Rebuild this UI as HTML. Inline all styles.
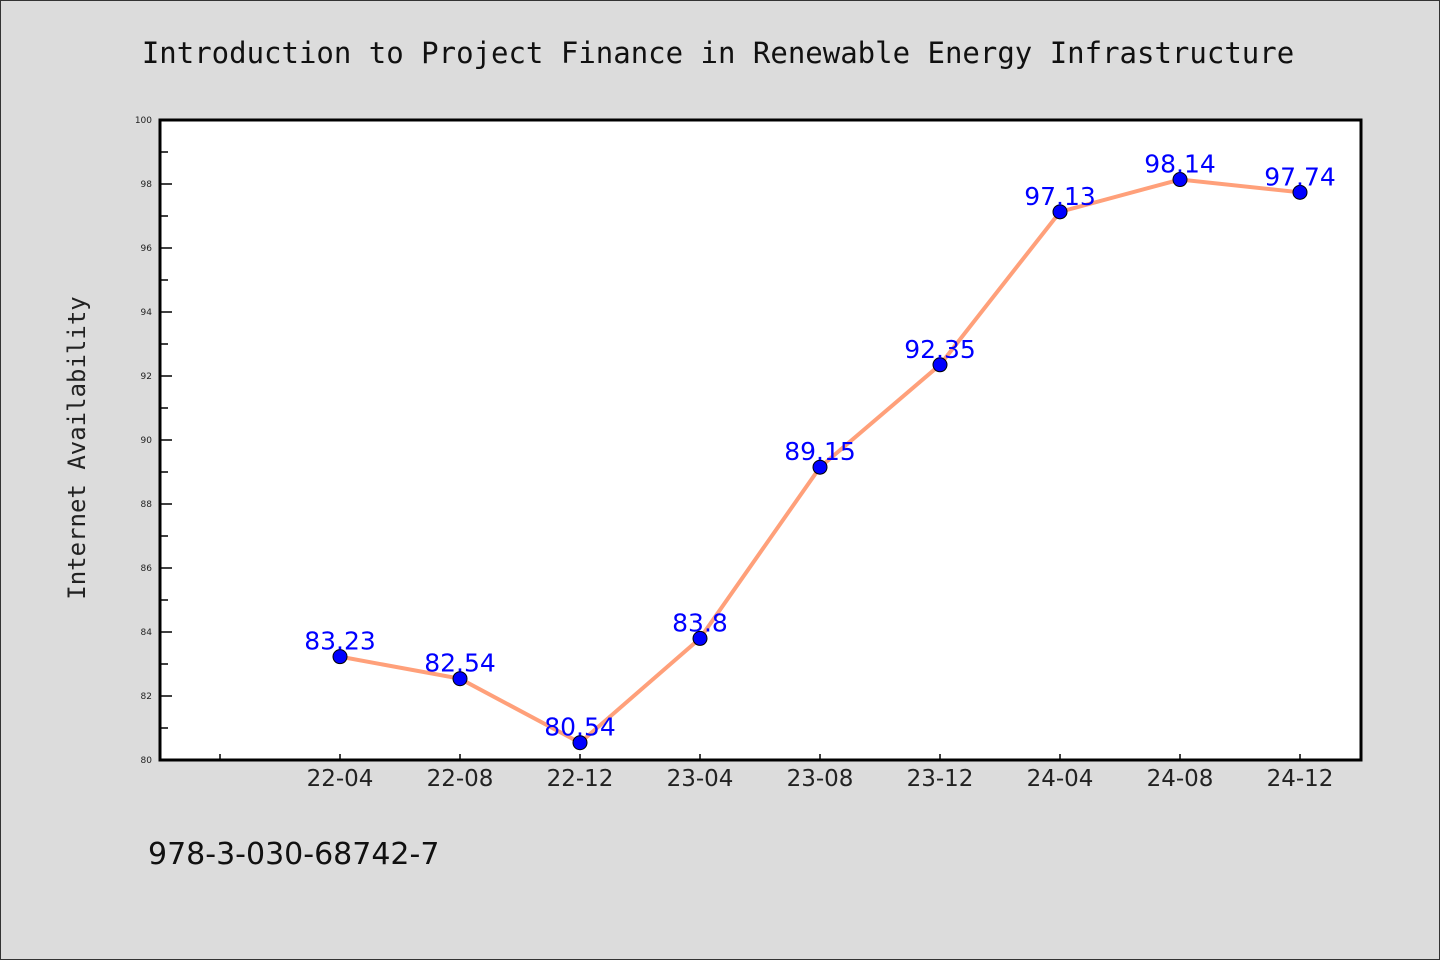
<!DOCTYPE html>
<html><head><meta charset="utf-8"><style>
body{margin:0;background:#dcdcdc;}
svg{display:block}
</style></head><body>
<svg width="1440" height="960" xmlns="http://www.w3.org/2000/svg">
<rect x="0.5" y="0.5" width="1439" height="959" fill="#dcdcdc" stroke="#333" stroke-width="1"/>
<text x="718" y="63" text-anchor="middle" font-family="DejaVu Sans Mono, Liberation Mono, monospace" font-size="29" fill="#111">Introduction to Project Finance in Renewable Energy Infrastructure</text>
<rect x="160" y="120" width="1201" height="640" fill="#fff"/>
<g id="axes"></g>
<g id="series"></g>
<rect x="160" y="120" width="1201" height="640" fill="none" stroke="#000" stroke-width="3"/>
<text transform="translate(85,448) rotate(-90)" text-anchor="middle" font-family="DejaVu Sans Mono, Liberation Mono, monospace" font-size="24" fill="#222">Internet Availability</text>
<text x="148" y="864" font-family="DejaVu Sans, Liberation Sans, sans-serif" font-size="30" fill="#111">978-3-030-68742-7</text>
</svg>
<script>
const categories = ["22-04","22-08","22-12","23-04","23-08","23-12","24-04","24-08","24-12"];
const values = [83.23,82.54,80.54,83.8,89.15,92.35,97.13,98.14,97.74];
const valueLabels = ["83.23","82.54","80.54","83.8","89.15","92.35","97.13","98.14","97.74"];
const yTicks = [80,82,84,86,88,90,92,94,96,98,100];
const NS="http://www.w3.org/2000/svg";
const L=160,R=1361,T=120,B=760,yMin=80,yMax=100;
function y(v){return B-(v-yMin)/(yMax-yMin)*(B-T);}
function x(i){return 220+120*(i+1);}
function mk(t,a,p){const e=document.createElementNS(NS,t);for(const k in a)e.setAttribute(k,a[k]);p.appendChild(e);return e;}
const ax=document.getElementById('axes'), sr=document.getElementById('series');
yTicks.forEach(v=>{
  const ln=mk('line',{x1:L,x2:L+12,y1:y(v),y2:y(v),stroke:'#000','stroke-width':1.5},ax);
  
  
  const t=mk('text',{x:L-8,y:y(v)+3,'text-anchor':'end','font-family':'DejaVu Sans, sans-serif','font-size':9,fill:'#222'},ax);
  t.textContent=v;
  
  
  if(v<yMax){const m=mk('line',{x1:L,x2:L+8,y1:y(v+1),y2:y(v+1),stroke:'#000','stroke-width':1.5},ax);
  
  }
});
for(let i=-1;i<categories.length;i++){
  const tk=mk('line',{x1:x(i),x2:x(i),y1:B,y2:B-6,stroke:'#000','stroke-width':1.5},ax);
  
  
  if(i>=0){const t=mk('text',{x:x(i),y:B+26,'text-anchor':'middle','font-family':'DejaVu Sans, sans-serif','font-size':23,fill:'#222'},ax);
  t.textContent=categories[i];
  
  }
}
const pl=mk('polyline',{points:values.map((v,i)=>x(i)+','+y(v)).join(' '),fill:'none',stroke:'#ffa07a','stroke-width':4},sr);


values.forEach((v,i)=>{
  const c=mk('circle',{cx:x(i),cy:y(v),r:7,fill:'#0000ff',stroke:'#000','stroke-width':1},sr);
  
  
  const t=mk('text',{x:x(i),y:y(v)-7,'text-anchor':'middle','font-family':'DejaVu Sans, sans-serif','font-size':25,fill:'#0000ff'},sr);
  t.textContent=valueLabels[i];
  
  
});
</script>
</body></html>
